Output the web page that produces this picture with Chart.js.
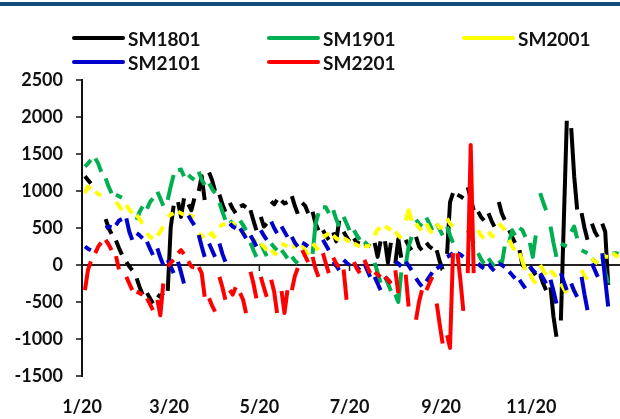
<!DOCTYPE html>
<html><head><meta charset="utf-8">
<script src="https://cdn.jsdelivr.net/npm/chart.js@4.4.1/dist/chart.umd.min.js"></script>
<style>
html,body{margin:0;padding:0;background:#fff;}
#wrap{position:relative;width:620px;height:419px;overflow:hidden;font-family:Lato,'Liberation Sans',sans-serif;}
#topbar{position:absolute;left:0;top:2px;width:620px;height:4px;background:#0f4c7c;}
#legend{position:absolute;left:0;top:0;width:620px;height:80px;}
.li{position:absolute;height:24px;display:flex;align-items:center;font-weight:700;font-size:19px;color:#111;white-space:nowrap;}
.li .sw{display:inline-block;width:53px;height:4px;border-radius:2px;margin-right:3px;}
canvas{position:absolute;left:0;top:0;}
</style></head><body>
<div id="wrap"><canvas id="c" width="620" height="419"></canvas><div id="topbar"></div><div id="legend"></div></div>
<script>
// Axis categories (days since 1/20) and their labels
const tickDays = [0, 59, 120, 181, 243, 304];
const tickLabels = ['1/20', '3/20', '5/20', '7/20', '9/20', '11/20'];
const seriesNames = ['SM1801', 'SM1901', 'SM2001', 'SM2101', 'SM2201'];
const seriesColors = ['#000000', '#00b050', '#ffff00', '#0000cc', '#ff0000'];

// Weekly readings: three values per week (Mon, Wed, Fri), 52 weeks
const sm1801 = [
 1200,1150,1100, null,null,null, 620,500,420, 330,230,140, 40,-20,-70,
 -180,-300,-400, -380,-450,-520, -400,-430,-380, -350,500,800, 850,650,900,
 820,740,900, 1000,1200,880, 1250,1150,1000, 950,820,720, 840,760,700,
 790,810,780, 740,600,470, 650,520,560, 860,820,880, 870,830,850,
 930,800,690, 840,800,700, 720,560,470, 470,400,340, 440,320,600,
 450,380,320, 360,300,290, 290,270,250, 300,110,320, 320,30,300,
 20,350,100, 340,260,200, 380,250,200, 300,250,220, 200,50,-60,
 150,850,970, 950,930,900, 1050,900,740, 720,650,600, 700,600,520,
 850,700,610, 470,380,300, 200,0,-40, -20,-80,-135, -135,-250,-340,
 -300,-700,-970, -750,600,1950, 1850,1200,750, 700,500,340, 560,450,380,
 560,450,-270, null,null,null
];
const sm1901 = [
 1330,1370,1420, 1440,1370,1260, 1170,1060,970, 950,930,910, null,null,null,
 610,720,790, 760,850,900, 990,900,800, 880,1060,1215, 1280,1290,1200,
 1215,1180,1150, 1260,1150,1080, 1100,1030,970, 840,720,610, 600,560,520,
 600,540,470, 300,200,110, 290,200,120, 290,240,200, 200,150,90,
 110,60,20, null,null,null, 150,550,700, 780,780,700, 740,620,520,
 650,560,470, 470,400,340, 315,280,250, 30,-100,-240, -160,-250,-350,
 -400,-500,-100, 0,250,380, 610,560,520, 640,560,470, 560,480,400,
 520,400,300, null,null,null, 470,380,290, 160,80,20, 90,30,-20,
 60,10,250, 300,470,400, 500,470,380, 300,110,400, 970,850,740,
 520,300,110, 290,270,250, 450,520,360, 200,180,160, 90,50,20,
 110,-100,-250, 160,160,150
];
const sm2001 = [
 970,1060,1030, 990,960,940, null,null,null, 850,800,740, 810,750,700,
 675,620,560, 430,380,360, 400,450,520, 650,680,700, 720,700,680,
 680,660,650, 430,380,400, 400,430,360, 520,540,560, 560,560,540,
 470,430,400, 380,340,315, 290,250,200, 200,160,135, 290,270,250,
 250,250,290, 270,200,135, 290,250,200, 380,400,430, 400,360,340,
 360,340,315, 290,270,250, 260,250,270, 400,480,500, 520,500,470,
 450,400,360, 600,740,600, 560,500,470, 560,480,430, 560,500,520,
 630,560,520, null,null,null, 560,540,520, 470,400,360, 450,400,380,
 560,520,470, 340,250,200, 160,50,-70, -110,-200,-250, 0,-70,-135,
 -70,-120,-160, -250,-320,-380, -300,-350,-380, -70,-150,-200, 90,50,20,
 160,110,110, 160,130,110
];
const sm2101 = [
 250,220,200, null,null,null, 500,520,510, 540,600,620, 630,450,340,
 430,400,360, 315,220,135, 225,100,0, 70,-20,-110, 45,-100,-250,
 670,600,540, 405,250,110, 290,200,110, 290,150,45, 560,520,495,
 495,430,360, 400,330,250, 470,400,340, 585,500,430, 520,450,380,
 380,300,250, 300,280,250, null,null,null, 340,270,200, 45,-10,-70,
 70,30,0, 20,-30,-70, 20,-70,-160, -160,-250,-340, -160,-200,-250,
 45,20,-20, 45,-10,-70, -180,-240,-290, -220,-160,-100, -50,-20,0,
 110,130,160, 160,140,110, null,null,null, 20,-20,-45, 20,-40,-80,
 20,0,-30, -90,-135,-180, -200,-260,-315, -20,-70,-110, -110,-180,-250,
 -200,-350,-520, -110,-230,-340, -250,-350,-430, -160,-400,-610, 20,-70,-160,
 160,-200,-560, null,null,null
];
const sm2201 = [
 -340,-70,50, 160,250,300, 340,280,200, 120,-60,null, -160,-250,-340,
 -360,-380,-400, -450,-530,-610, -470,-680,-250, -20,30,70, 160,200,150,
 50,-20,-30, -30,-110,-430, -450,-550,-630, -160,-300,-470, -340,-400,-300,
 -380,-470,-650, -90,-250,-450, -160,-300,-430, -200,-360,-650, -350,-650,-340,
 -340,-150,-40, 200,120,40, 110,-50,-160, 160,20,-110, 100,20,-30,
 -60,-470,null, 40,-50,-110, 70,-20,-110, -100,-130,-160, -160,-200,-250,
 -70,-380,null, -130,-560,null, -740,-500,-340, -340,-250,-160, -520,-800,-1060,
 -950,-1120,160, 160,-200,-620, -110,1620,-110, null,null,null, null,null,null,
 null,null,null, null,null,null, null,null,null, null,null,null, null,null,null,
 null,null,null, null,null,null, null,null,null, null,null,null, null,null,null,
 null,null,null, null,null,null
];
const seriesValues = [sm1801, sm1901, sm2001, sm2101, sm2201];

// Week k, slot j -> trading day offset from 1/20
const FIRST_DAY = 2, SLOT_DAYS = [0, 2, 4];
function toPoints(vals) {
  const pts = [];
  for (let k = 0; k < vals.length / 3; k++) {
    for (let j = 0; j < 3; j++) pts.push({x: FIRST_DAY + 7 * k + SLOT_DAYS[j], y: vals[3 * k + j]});
    pts.push({x: FIRST_DAY + 7 * k + 5, y: null});
  }
  return pts;
}

const tickFont = {family: 'Lato', size: 18, weight: 'bold'};
const xZeroTicks = {
  id: 'xZeroTicks',
  beforeDatasetsDraw(chart) {
    const {ctx, scales: {x, y}} = chart;
    const y0 = y.getPixelForValue(0);
    ctx.save();
    ctx.strokeStyle = '#222';
    ctx.lineWidth = 1.5;
    x.ticks.forEach(t => {
      const px = x.getPixelForValue(t.value);
      ctx.beginPath(); ctx.moveTo(px, y0); ctx.lineTo(px, y0 + 6); ctx.stroke();
    });
    ctx.restore();
  }
};

const chart = new Chart(document.getElementById('c'), {
  type: 'line',
  data: {
    datasets: seriesNames.map((name, i) => ({
      label: name,
      data: toPoints(seriesValues[i]),
      borderColor: seriesColors[i],
      backgroundColor: seriesColors[i],
      borderWidth: 4,
      pointRadius: 0,
      tension: 0,
      spanGaps: false,
      borderCapStyle: 'butt',
      borderJoinStyle: 'round',
      order: seriesNames.length - 1 - i
    }))
  },
  options: {
    responsive: false,
    animation: false,
    devicePixelRatio: 1,
    layout: {padding: {top: 80, left: 0, right: 0, bottom: 0}},
    plugins: {legend: {display: false}, tooltip: {enabled: false}},
    scales: {
      x: {
        type: 'linear', min: 0, max: 364,
        afterFit(s) { s.height = 43; },
        afterBuildTicks(s) { s.ticks = tickDays.map(v => ({value: v})); },
        grid: {display: false, drawTicks: false},
        border: {display: false},
        ticks: {
          autoSkip: false, maxRotation: 0, padding: 20, color: '#111', font: tickFont,
          callback: (v) => { const i = tickDays.indexOf(v); return i >= 0 ? tickLabels[i] : ''; }
        }
      },
      y: {
        min: -1500, max: 2500,
        afterFit(s) { s.width = 82; },
        ticks: {stepSize: 500, padding: 13, color: '#111', font: tickFont, callback: v => String(v)},
        grid: {
          color: c => (c.tick && c.tick.value === 0) ? '#222' : 'rgba(0,0,0,0)',
          lineWidth: 2, tickColor: '#111', tickWidth: 1.5, tickLength: 6, drawTicks: true
        },
        border: {display: true, color: '#111', width: 2}
      }
    }
  },
  plugins: [xZeroTicks]
});

// HTML legend built from the chart datasets (3-column grid)
const legendEl = document.getElementById('legend');
chart.data.datasets.forEach((ds, i) => {
  const row = Math.floor(i / 3), col = i % 3;
  const item = document.createElement('div');
  item.className = 'li';
  item.style.left = (72 + col * 195) + 'px';
  item.style.top = (26 + row * 24) + 'px';
  const sw = document.createElement('span');
  sw.className = 'sw';
  sw.style.background = ds.borderColor;
  item.appendChild(sw);
  item.appendChild(document.createTextNode(ds.label));
  legendEl.appendChild(item);
});
</script>
</body></html>
